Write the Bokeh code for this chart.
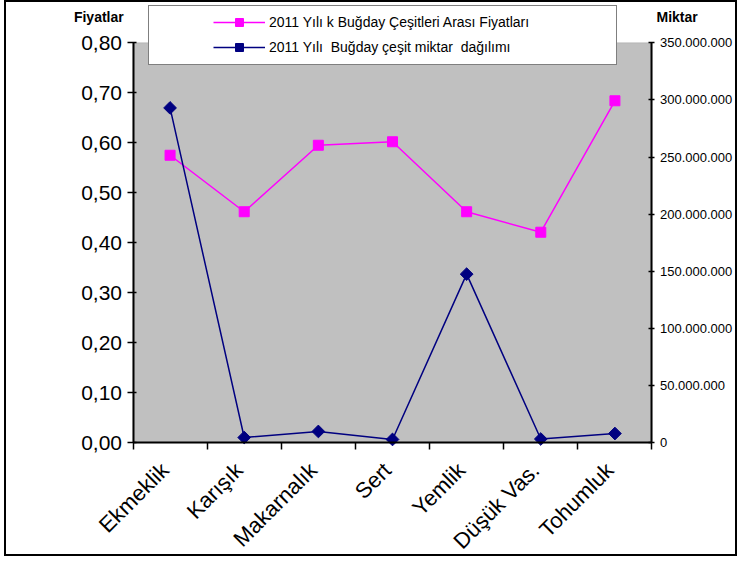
import math
from bokeh.plotting import figure
from bokeh.models import (Range1d, FactorRange, LinearAxis, FixedTicker,
                          SingleIntervalTicker, CustomJSTickFormatter, Legend,
                          LegendItem, Label, ColumnDataSource, BoxAnnotation)
from bokeh.core.properties import value
from bokeh.embed import file_html
from bokeh.resources import INLINE

# ---- data ----
categories = ["Ekmeklik", "Karışık", "Makarnalık", "Sert", "Yemlik", "Düşük Vas.", "Tohumluk"]
prices = [0.575, 0.462, 0.595, 0.602, 0.462, 0.421, 0.684]
quantities = [293_000_000, 4_500_000, 9_800_000, 2_800_000, 147_500_000, 3_200_000, 8_000_000]
price_label = "2011 Yılı k Buğday Çeşitleri Arası Fiyatları"
qty_label = "2011 Yılı  Buğday çeşit miktar  dağılımı"
left_title = "Fiyatlar"
right_title = "Miktar"
PRICE_MAX = 0.8
QTY_MAX = 350_000_000

FONT = "Liberation Sans"

# layout (canvas pixels)
W, H = 729, 552
AX_L, AX_R = 126, 642    # where the two value axes stand
AX_TOP, AX_BOT = 40, 437
FRAME_L = AX_L - (W - AX_R)
unit = (AX_R - AX_L) / len(categories)
pad = (AX_L - FRAME_L) / unit
ppu = (AX_BOT - AX_TOP) / PRICE_MAX
y_lo = -(H - AX_BOT) / ppu
y_hi = AX_BOT / ppu

x_range = FactorRange(factors=categories, range_padding=pad, range_padding_units="absolute")
p = figure(width=W + 4, height=H + 4, x_range=x_range, y_range=Range1d(y_lo, y_hi),
           x_axis_location=None, y_axis_location=None,
           output_backend="svg", toolbar_location=None,
           min_border_left=FRAME_L, min_border_right=0, min_border_top=0, min_border_bottom=0)
p.styles = {"border": "2px solid black", "box-sizing": "border-box", "margin": "0 0 0 4px"}
p.background_fill_color = "white"
p.border_fill_color = "white"
p.outline_line_color = None
p.grid.visible = False

p.extra_y_ranges = {"qty": Range1d(y_lo / PRICE_MAX * QTY_MAX, y_hi / PRICE_MAX * QTY_MAX)}

# grey plot area
p.add_layout(BoxAnnotation(left=0, right=len(categories), bottom=0, top=PRICE_MAX,
                           fill_color="#C0C0C0", fill_alpha=1.0, line_color="#808080",
                           line_width=1, level="underlay"))

# left axis
ya = LinearAxis(ticker=SingleIntervalTicker(interval=0.1), fixed_location=0, bounds=(0, PRICE_MAX),
                formatter=CustomJSTickFormatter(code="return tick.toFixed(2).replace('.', ',')"))
ya.major_label_text_font = FONT
ya.major_label_text_font_size = "21px"
ya.major_label_text_color = "black"
ya.axis_line_color = "black"
ya.axis_line_width = 2
ya.major_tick_line_color = "black"
ya.major_tick_line_width = 1.5
ya.major_tick_out = 6
ya.major_tick_in = 3
ya.minor_tick_line_color = None
ya.major_label_standoff = 5
p.add_layout(ya, "left")

# right axis
ra = LinearAxis(y_range_name="qty", ticker=SingleIntervalTicker(interval=50_000_000),
                fixed_location=len(categories), bounds=(0, QTY_MAX),
                formatter=CustomJSTickFormatter(code="return Math.round(tick).toString().replace(/\\B(?=(\\d{3})+(?!\\d))/g, '.')"))
ra.major_label_text_font = FONT
ra.major_label_text_font_size = "13px"
ra.major_label_text_color = "black"
ra.axis_line_color = "black"
ra.axis_line_width = 2
ra.major_tick_line_color = "black"
ra.major_tick_line_width = 1.5
ra.major_tick_out = 3
ra.major_tick_in = 3
ra.minor_tick_line_color = None
ra.major_label_standoff = 4
p.add_layout(ra, "right")

# bottom axis: ticks between categories (synthetic coordinates of the factor range)
ta = LinearAxis(ticker=FixedTicker(ticks=list(range(len(categories) + 1))),
                bounds=(0, len(categories)), fixed_location=0)
ta.major_label_text_font_size = "0px"
ta.major_label_text_color = None
ta.major_label_standoff = 0
ta.axis_line_color = "black"
ta.axis_line_width = 2
ta.major_tick_line_color = "black"
ta.major_tick_line_width = 1.5
ta.major_tick_out = 7
ta.major_tick_in = 0
ta.minor_tick_line_color = None
p.add_layout(ta, "below")

# series
src = ColumnDataSource(dict(cat=categories, price=prices, qty=quantities))
l1 = p.line("cat", "price", source=src, line_color="#FF00FF", line_width=1.5)
s1 = p.scatter("cat", "price", source=src, marker="square", size=10,
               fill_color="#FF00FF", line_color="#FF00FF")
l2 = p.line("cat", "qty", source=src, y_range_name="qty", line_color="#000080", line_width=1.5)
s2 = p.scatter("cat", "qty", source=src, y_range_name="qty", marker="square", angle=math.pi / 4,
               size=9, fill_color="#000080", line_color="#000080")

# category labels, rotated 45 degrees, ending just below each category centre
p.text(x="cat", y=0, text="cat", source=src, angle=math.pi / 4, x_offset=-14, y_offset=15,
       text_align="right", text_baseline="top", text_font=value(FONT),
       text_font_size="22px", text_color="black")

# legend box (background)
dummy = p.scatter(x=[], y=[], marker="square", fill_alpha=0, line_alpha=0)
box = Legend(items=[LegendItem(label=" ", renderers=[dummy])], location=(142 - FRAME_L, H - 59),
             padding=0, glyph_width=10, glyph_height=58, label_width=457, label_height=58,
             label_standoff=0, border_line_color="black", border_line_width=1.5,
             background_fill_color="white", background_fill_alpha=1.0)
p.add_layout(box, "center")

leg = Legend(items=[LegendItem(label=price_label, renderers=[l1, s1]),
                    LegendItem(label=qty_label, renderers=[l2, s2])],
             location=(207 - FRAME_L, H - 51), padding=0, spacing=5, glyph_width=52, glyph_height=20,
             label_height=20, label_standoff=4, label_text_font=FONT,
             label_text_font_size="14px", label_text_color="black",
             border_line_alpha=0, background_fill_alpha=0)
p.add_layout(leg, "center")

title_y = (AX_BOT - 14) / ppu
p.add_layout(Label(x=(92 - AX_L) / unit, y=title_y, text=left_title,
                   text_align="center", text_baseline="middle", text_font=FONT,
                   text_font_style="bold", text_font_size="14px", text_color="black"))
p.add_layout(Label(x=(667 - AX_L) / unit, y=title_y, text=right_title,
                   text_align="center", text_baseline="middle", text_font=FONT,
                   text_font_style="bold", text_font_size="14px", text_color="black"))

open("out.html", "w").write(file_html(p, INLINE))
